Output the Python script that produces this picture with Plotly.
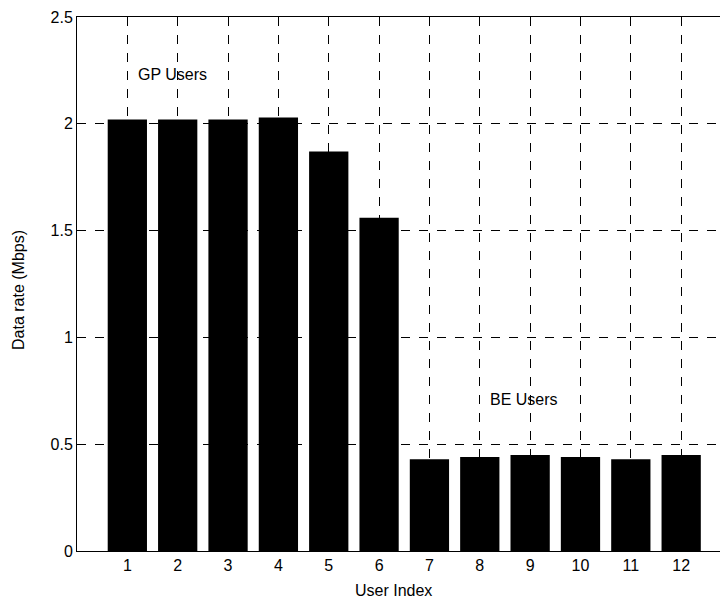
import plotly.graph_objects as go

users = [1, 2, 3, 4, 5, 6, 7, 8, 9, 10, 11, 12]
data_rate = [2.02, 2.02, 2.02, 2.03, 1.87, 1.56, 0.43, 0.44, 0.45, 0.44, 0.43, 0.45]
y_ticks = [0, 0.5, 1, 1.5, 2, 2.5]
y_tick_labels = ["0", "0.5", "1", "1.5", "2", "2.5"]

font_family = "Liberation Sans, Arial, sans-serif"
OFF = 8  # page body margin
W, H = 728 - OFF, 603 - OFF
ML, MR, MT, MB = 77 - OFF, 0, 17 - OFF, 52
pw = W - ML - MR
ph = H - MT - MB

fig = go.Figure()
fig.add_trace(go.Bar(
    x=users, y=data_rate, width=0.78,
    marker=dict(color="black", line=dict(width=0)),
))

fig.add_annotation(x=1.9, y=2.23, text="GP Users", showarrow=False,
                   font=dict(size=16, color="black", family=font_family))
fig.add_annotation(x=8.88, y=0.71, text="BE Users", showarrow=False,
                   font=dict(size=16, color="black", family=font_family))

# axis titles (screen pixel targets converted to paper coords)
fig.add_annotation(xref="paper", yref="paper", x=(18 - OFF - ML) / pw,
                   y=(H - MB - (290 - OFF)) / ph,
                   text="Data rate (Mbps)", textangle=-90, showarrow=False,
                   xanchor="center", yanchor="middle",
                   font=dict(size=16, color="black", family=font_family))
fig.add_annotation(xref="paper", yref="paper", x=(393 - OFF - ML) / pw,
                   y=-((590 - OFF) - (H - MB)) / ph,
                   text="User Index", showarrow=False,
                   xanchor="center", yanchor="middle",
                   font=dict(size=16, color="black", family=font_family))

fig.update_layout(
    width=W, height=H,
    margin=dict(l=ML, r=MR, t=MT, b=MB),
    paper_bgcolor="white", plot_bgcolor="white",
    showlegend=False,
    font=dict(family=font_family, size=16, color="black"),
    xaxis=dict(
        range=[0, 12.93], tickvals=users, ticktext=[str(u) for u in users],
        showgrid=True, gridcolor="black", griddash="dash", gridwidth=1,
        showline=True, linecolor="black", linewidth=1, mirror=True,
        ticks="inside", ticklen=5, tickcolor="black",
        automargin=False, zeroline=False,
    ),
    yaxis=dict(
        range=[0, 2.5], tickvals=y_ticks, ticktext=y_tick_labels,
        showgrid=True, gridcolor="black", griddash="dash", gridwidth=1,
        showline=True, linecolor="black", linewidth=1, mirror=True,
        ticks="inside", ticklen=5, tickcolor="black",
        automargin=False, zeroline=False,
    ),
)

fig.write_html("out.html")
